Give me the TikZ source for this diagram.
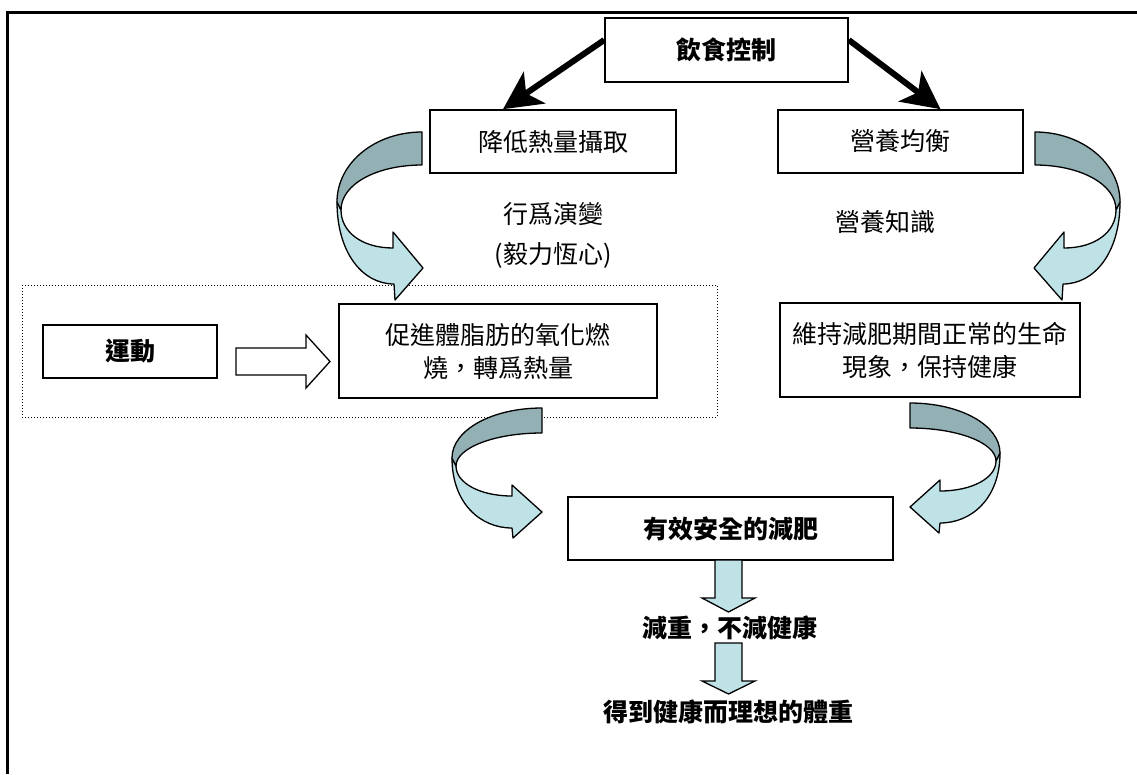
\documentclass[tikz,border=0pt]{standalone}
\usepackage{fontspec}
\setmainfont{Noto Sans CJK TC}
\usetikzlibrary{arrows.meta,calc}
\definecolor{darkband}{RGB}{147,177,180}
\definecolor{lightband}{RGB}{190,226,230}
\tikzset{
  box/.style={draw, line width=1.6pt, inner sep=0pt, align=center,
    font=\fontsize{25}{33}\selectfont},
  boldbox/.style={box, font=\fontsize{25}{33}\selectfont\bfseries},
  lbl/.style={inner sep=0pt, align=center, font=\fontsize{25}{33}\selectfont},
  boldlbl/.style={lbl, font=\fontsize{25}{33}\selectfont\bfseries},
  thick arrow/.style={line width=6pt, -{Stealth[length=38pt,width=38pt,inset=10pt]}},
  ribbon/.style={draw=black, line width=1.3pt, line join=round},
  blockarrow/.style={draw=black, line width=1.3pt, line join=miter},
}
\newcommand{\bigcurve}{%
  \filldraw[ribbon, fill=lightband] (-85,70) .. controls (-85,120) and (-60,152) .. (-28,152)
     -- (-27,168) -- (1,136) -- (-29,100) -- (-29,116)
     .. controls (-60,116) and (-81,100) .. (-81,78) -- cycle;
  \filldraw[ribbon, fill=darkband] (0,0) .. controls (-47,0) and (-85,31) .. (-85,70)
     -- (-81,78) .. controls (-81,52) and (-45,33) .. (0,33) -- cycle;}
\newcommand{\smallcurve}{%
  \filldraw[ribbon, fill=lightband] (-90,50) .. controls (-90,95) and (-62,120) .. (-30,120)
     -- (-29,130) -- (0,104) -- (-30,77) -- (-30,88)
     .. controls (-62,88) and (-86,75) .. (-86,58) -- cycle;
  \filldraw[ribbon, fill=darkband] (0,0) .. controls (-50,0) and (-90,22) .. (-90,50)
     -- (-86,58) .. controls (-86,40) and (-48,25) .. (0,25) -- cycle;}
\begin{document}
\begin{tikzpicture}[x=1pt,y=-1pt]
\useasboundingbox (0,0) rectangle (1137,774);
\fill[white] (0,0) rectangle (1137,774);
% frame
\draw[line width=3pt] (7,774) -- (7,12) -- (1137,12);

% dotted group
\draw[dotted, line width=1pt] (22,285) rectangle (717,417);

% nodes
\node[boldbox, minimum width=243pt, minimum height=64pt] (ys) at (726.5,50) {飲食控制};
\node[box, minimum width=246pt, minimum height=63pt] (jd) at (553,141.5) {降低熱量攝取};
\node[box, minimum width=245pt, minimum height=63pt] (yy) at (900.5,141.5) {營養均衡};
\node[lbl] (xw) at (553,214) {行爲演變};
\node[lbl] (yl) at (553,255) {(毅力恆心)};
\node[lbl] (yz) at (885,222) {營養知識};
\node[boldbox, minimum width=174pt, minimum height=53pt] (yd) at (130,351.5) {運動};
\node[box, minimum width=318pt, minimum height=94pt] (cj) at (498,351) {促進體脂肪的氧化燃\\燒，轉爲熱量};
\node[box, minimum width=300pt, minimum height=94pt] (wc) at (930,350) {維持減肥期間正常的生命\\現象，保持健康};
\node[boldbox, minimum width=325pt, minimum height=63pt] (yx) at (730.5,528.5) {有效安全的減肥};
\node[boldlbl] (jz) at (730,628) {減重，不減健康};
\node[boldlbl] (dd) at (728,712) {得到健康而理想的體重};

% thick arrows from 飲食控制
\draw[thick arrow] ([yshift=10pt]ys.west) -- ([xshift=-50pt]jd.north);
\draw[thick arrow] ([yshift=10pt]ys.east) -- ([xshift=40pt]yy.north);

% curved ribbon arrows
\begin{scope}[shift={(422,132)}] \bigcurve \end{scope}
\begin{scope}[shift={(1035,132)}, xscale=-1] \bigcurve \end{scope}
\begin{scope}[shift={(542,408)}] \smallcurve \end{scope}
\begin{scope}[shift={(910,403)}, xscale=-1] \smallcurve \end{scope}

% hollow arrow 運動 -> 促進
\filldraw[blockarrow, fill=white] (236,348) -- (306,348) -- (306,335) -- (330,361.5)
  -- (306,388) -- (306,375) -- (236,375) -- cycle;

% down arrows
\filldraw[blockarrow, fill=lightband] (715,560) -- (742,560) -- (742,598) -- (755,598)
  -- (728.5,612) -- (702,598) -- (715,598) -- cycle;
\filldraw[blockarrow, fill=lightband] (715,643) -- (742,643) -- (742,681) -- (755,681)
  -- (728.5,694) -- (702,681) -- (715,681) -- cycle;
\end{tikzpicture}
\end{document}
